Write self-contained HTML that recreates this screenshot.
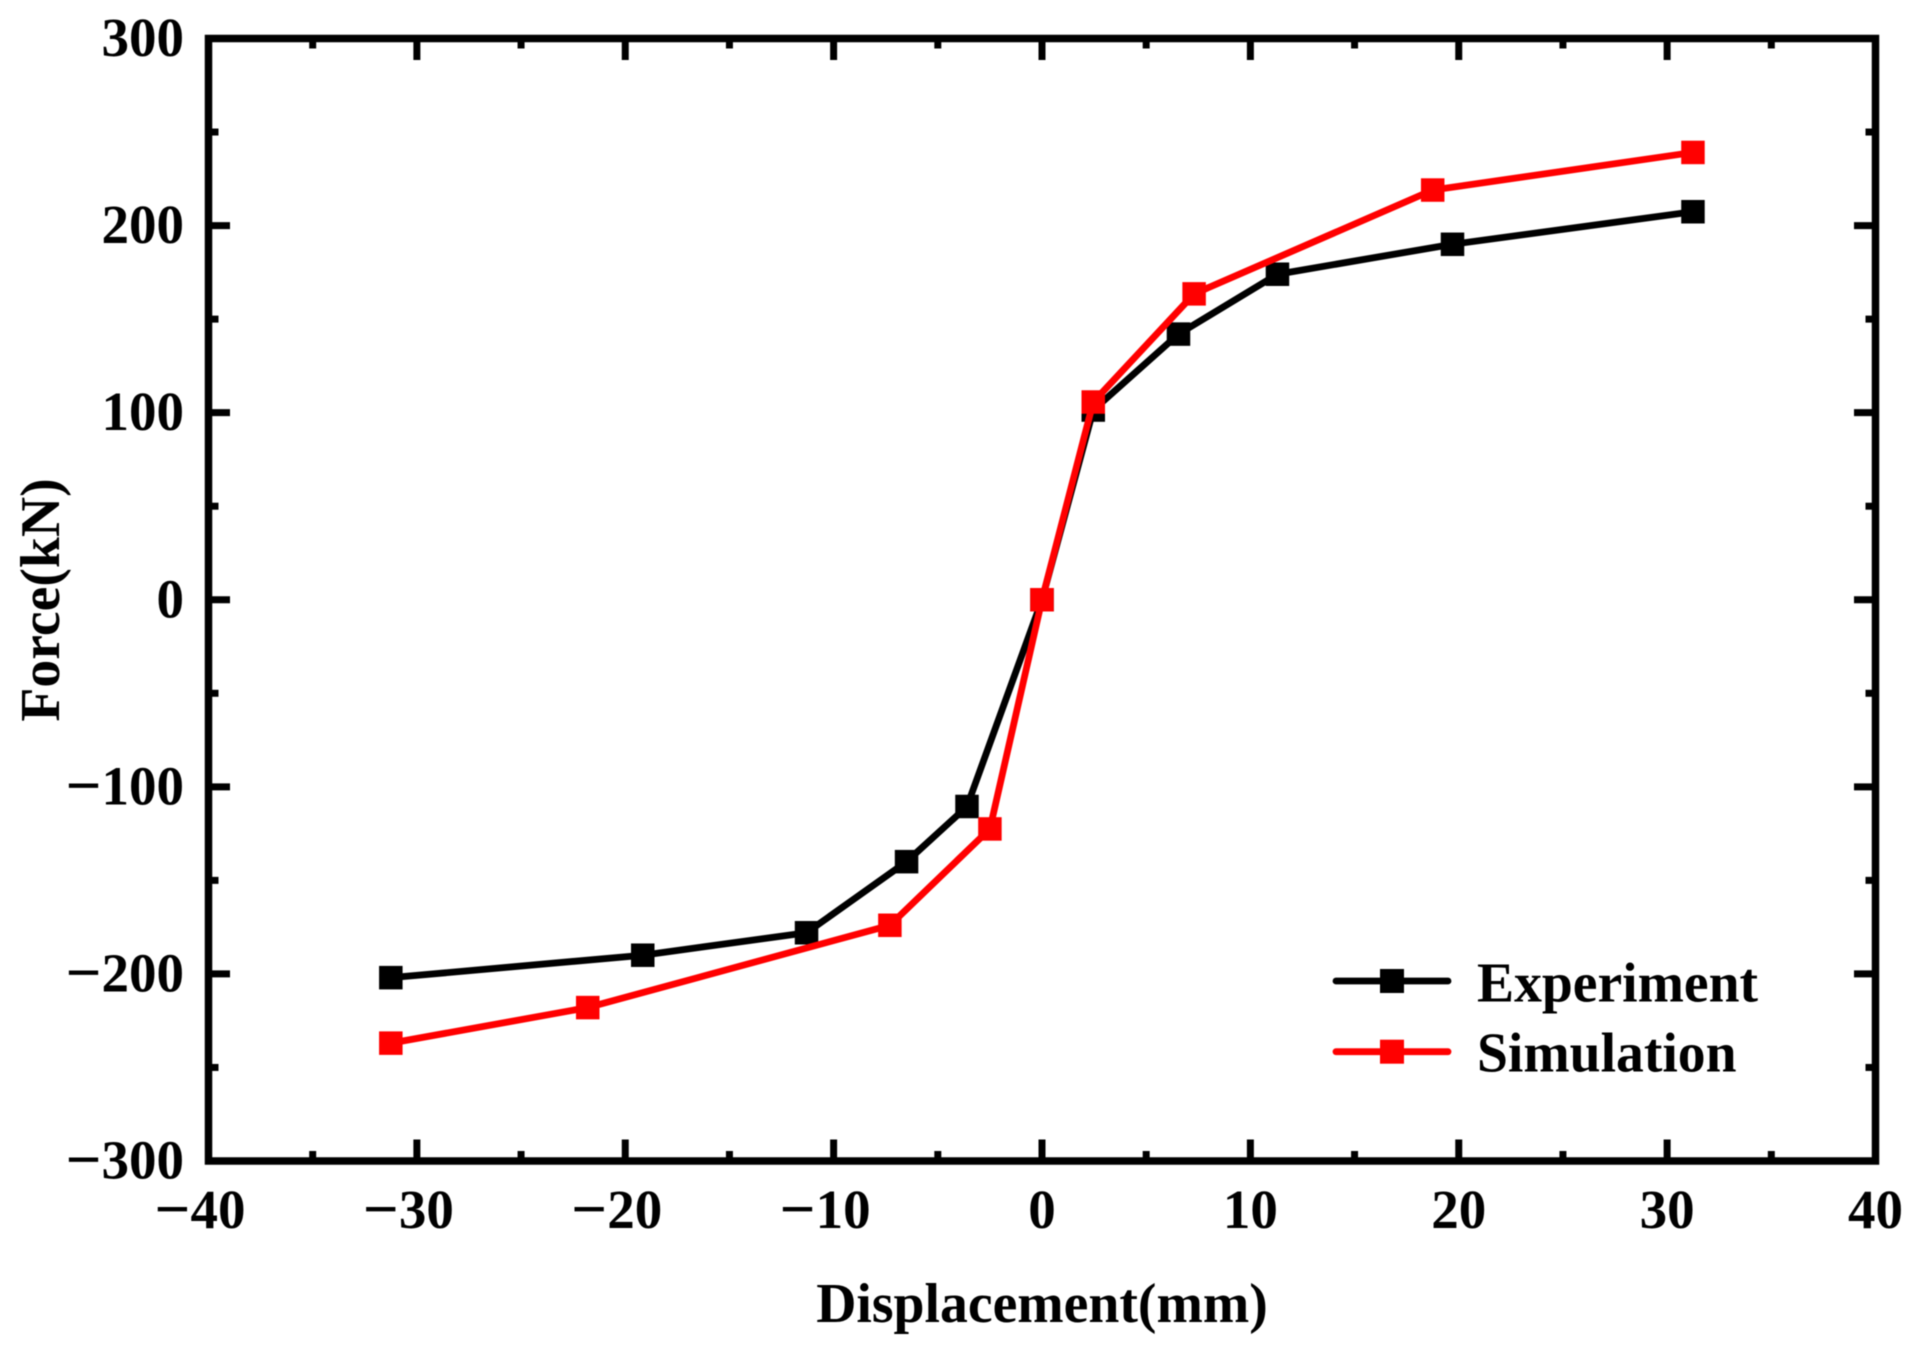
<!DOCTYPE html>
<html lang="en">
<head>
<meta charset="utf-8">
<title>Force vs Displacement</title>
<style>
html,body{margin:0;padding:0;background:#fff;}
svg{display:block;}
text{font-family:"Liberation Serif",serif;font-weight:bold;fill:#000;}
</style>
</head>
<body>
<svg id="chart" xmlns="http://www.w3.org/2000/svg" width="1918" height="1355" viewBox="0 0 1918 1355">
  <rect x="0" y="0" width="1918" height="1355" fill="#ffffff"/>
  <g id="plot" style="filter:blur(0.6px)">
    <g id="ticks"></g>
    <g id="series"></g>
    <rect x="208.5" y="38.5" width="1667" height="1122.5" fill="none" stroke="#000" stroke-width="7.5"/>
    <g id="tick-labels"></g>
    <text x="1042" y="1322" font-size="55.7" text-anchor="middle">Displacement(mm)</text>
    <text transform="translate(59 600) rotate(-90)" x="0" y="0" font-size="55.7" text-anchor="middle">Force(kN)</text>
    <g>
      <g>
        <line x1="1336" y1="981" x2="1448" y2="981" stroke="#000" stroke-width="6.8" stroke-linecap="round"/>
        <rect x="1380" y="969" width="24" height="24" fill="#000"/>
        <text x="1477" y="1001.7" font-size="55.6">Experiment</text>
      </g>
      <g>
        <line x1="1336" y1="1051.7" x2="1448" y2="1051.7" stroke="#ff0000" stroke-width="6.8" stroke-linecap="round"/>
        <rect x="1380" y="1039.7" width="24" height="24" fill="#ff0000"/>
        <text x="1477" y="1071.7" font-size="55.6">Simulation</text>
      </g>
    </g>
  </g>
</svg>
<script>
var xTickValues = [-40, -30, -20, -10, 0, 10, 20, 30, 40];
var yTickValues = [-300, -200, -100, 0, 100, 200, 300];
var experimentX = [-31.25, -19.16, -11.3, -6.5, -3.6, 0, 2.46, 6.55, 11.3, 19.7, 31.24];
var experimentY = [-202, -190, -178, -140, -110.5, 0, 101.4, 142, 174, 190, 207.4];
var simulationX = [-31.25, -21.8, -7.3, -2.5, 0, 2.46, 7.3, 18.75, 31.24];
var simulationY = [-237, -218, -174, -122.5, 0, 105.7, 163.5, 219, 239.1];

var SVG_NS = 'http://www.w3.org/2000/svg';
var plotLeft = 208.5, plotRight = 1875.5, plotTop = 38.5, plotBottom = 1161;
var xMin = -40, xMax = 40, yMin = -300, yMax = 300;

function xScale(v) {
  return plotLeft + (v - xMin) / (xMax - xMin) * (plotRight - plotLeft);
}
function yScale(v) {
  return plotBottom - (v - yMin) / (yMax - yMin) * (plotBottom - plotTop);
}
function fillTickLabel(el, v) {
  if (v < 0) {
    var minus = document.createElementNS(SVG_NS, 'tspan');
    minus.setAttribute('font-size', 63);
    minus.setAttribute('dy', 2);
    minus.textContent = '\u2212';
    el.appendChild(minus);
    var digits = document.createElementNS(SVG_NS, 'tspan');
    digits.setAttribute('dy', -2);
    digits.textContent = String(Math.abs(v));
    el.appendChild(digits);
  } else {
    el.textContent = String(v);
  }
}
function makeLine(x1, y1, x2, y2, color, width) {
  var el = document.createElementNS(SVG_NS, 'line');
  el.setAttribute('x1', x1);
  el.setAttribute('y1', y1);
  el.setAttribute('x2', x2);
  el.setAttribute('y2', y2);
  el.setAttribute('stroke', color);
  el.setAttribute('stroke-width', width);
  return el;
}

var ticksGroup = document.getElementById('ticks');
var labelsGroup = document.getElementById('tick-labels');
var seriesGroup = document.getElementById('series');
var majorLen = 21.5, minorLen = 10;

xTickValues.forEach(function (v, i) {
  var x = xScale(v);
  var bottomTick = makeLine(x, plotBottom, x, plotBottom - majorLen, '#000', 7);
  
  
  ticksGroup.appendChild(bottomTick);
  var topTick = makeLine(x, plotTop, x, plotTop + majorLen, '#000', 7);
  
  
  ticksGroup.appendChild(topTick);
  if (i < xTickValues.length - 1) {
    var mx = xScale((v + xTickValues[i + 1]) / 2);
    var bottomMinor = makeLine(mx, plotBottom, mx, plotBottom - minorLen, '#000', 7);
    
    
    ticksGroup.appendChild(bottomMinor);
    var topMinor = makeLine(mx, plotTop, mx, plotTop + minorLen, '#000', 7);
    
    
    ticksGroup.appendChild(topMinor);
  }
  var label = document.createElementNS(SVG_NS, 'text');
  
  
  label.setAttribute('x', v < 0 ? x - 8.5 : x);
  label.setAttribute('y', 1228);
  label.setAttribute('font-size', 55);
  label.setAttribute('text-anchor', 'middle');
  fillTickLabel(label, v);
  labelsGroup.appendChild(label);
});

yTickValues.forEach(function (v, i) {
  var y = yScale(v);
  var leftTick = makeLine(plotLeft, y, plotLeft + majorLen, y, '#000', 7);
  
  
  ticksGroup.appendChild(leftTick);
  var rightTick = makeLine(plotRight, y, plotRight - majorLen, y, '#000', 7);
  
  
  ticksGroup.appendChild(rightTick);
  if (i < yTickValues.length - 1) {
    var my = yScale((v + yTickValues[i + 1]) / 2);
    var leftMinor = makeLine(plotLeft, my, plotLeft + minorLen, my, '#000', 7);
    
    
    ticksGroup.appendChild(leftMinor);
    var rightMinor = makeLine(plotRight, my, plotRight - minorLen, my, '#000', 7);
    
    
    ticksGroup.appendChild(rightMinor);
  }
  var label = document.createElementNS(SVG_NS, 'text');
  
  
  label.setAttribute('x', 184);
  label.setAttribute('y', y + 17.5);
  label.setAttribute('font-size', 55);
  label.setAttribute('text-anchor', 'end');
  fillTickLabel(label, v);
  labelsGroup.appendChild(label);
});

function drawSeries(xs, ys, color, seriesName) {
  var points = xs.map(function (v, i) {
    return xScale(v) + ',' + yScale(ys[i]);
  }).join(' ');
  var path = document.createElementNS(SVG_NS, 'polyline');
  
  
  path.setAttribute('points', points);
  path.setAttribute('fill', 'none');
  path.setAttribute('stroke', color);
  path.setAttribute('stroke-width', 6.8);
  path.setAttribute('stroke-linejoin', 'miter');
  seriesGroup.appendChild(path);
  xs.forEach(function (v, i) {
    var marker = document.createElementNS(SVG_NS, 'rect');
    
    
    marker.setAttribute('x', xScale(v) - 11.75);
    marker.setAttribute('y', yScale(ys[i]) - 11.75);
    marker.setAttribute('width', 23.5);
    marker.setAttribute('height', 23.5);
    marker.setAttribute('fill', color);
    seriesGroup.appendChild(marker);
  });
}

drawSeries(experimentX, experimentY, '#000000', 'experiment');
drawSeries(simulationX, simulationY, '#ff0000', 'simulation');
</script>
</body>
</html>
